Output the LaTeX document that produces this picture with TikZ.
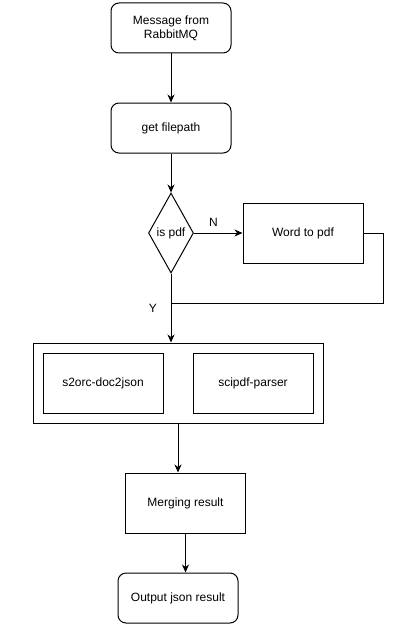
\documentclass[tikz,border=0pt]{standalone}
\usepackage{fontspec}
\setmainfont{Liberation Sans}
\usepackage{xcolor}
\usepackage{tikz}
\usetikzlibrary{shapes.geometric,arrows.meta,calc}

\begin{document}
\begin{tikzpicture}[x=1pt,y=-1pt,font=\fontsize{12}{14}\selectfont]
        % Define the styles for the boxes and the connectors
        \tikzstyle{roundbox}=[draw, line width=1pt, rounded corners=8pt, minimum width=120pt, minimum height=50pt, inner sep=0pt, align=center];
        \tikzstyle{plainbox}=[draw, line width=1pt, minimum width=120pt, minimum height=60pt, inner sep=0pt, align=center];
        \tikzstyle{decision}=[draw, line width=1pt, diamond, aspect=0.56, minimum width=45pt, minimum height=80pt, inner sep=0pt];
        \tikzstyle{flow}=[-{Stealth[length=8pt,width=7pt,inset=2.5pt]}, line width=1pt];
        
        % Fix the page size
        \useasboundingbox (0,0) rectangle (416,634);
        
        % Input and first step
        \node[roundbox] (msg) at (171,28) {Message from\\RabbitMQ};
        \node[roundbox] (filepath) at (171,128) {get filepath};
        
        % The decision and the conversion step
        \node[decision] (ispdf) at (171,233) {is pdf};
        \node[plainbox] (word) at (303,233) {Word to pdf};
        
        % The two parsers inside one box
        \node[draw, line width=1pt, minimum width=290pt, minimum height=80pt, inner sep=0pt] (tools) at (178,383) {};
        \node[plainbox] (s2orc) at (103,383) {s2orc-doc2json};
        \node[plainbox] (scipdf) at (253,383) {scipdf-parser};
        
        % Merging and output
        \node[plainbox] (merge) at (185.5,503) {Merging result};
        \node[roundbox] (output) at (178,598) {Output json result};
        
        % Point where the converted file joins the main line
        \coordinate (join) at (171,303);
        
        % Connectors
        \draw[flow] (msg.south) -- (filepath.north);
        \draw[flow] (filepath.south) -- (ispdf.north);
        \draw[flow] (ispdf.east) -- node[pos=0.4, above=3pt] (nlabel) {N} (word.west);
        \draw[line width=1pt] (word.east) -- ++(20,0) |- (join);
        \draw[flow] (ispdf.south) -- (ispdf.south |- tools.north);
        \node (ylabel) at (153,308) {Y};
        \draw[flow] (tools.south) -- (tools.south |- merge.north);
        \draw[flow] (merge.south) -- (merge.south |- output.north);
    \end{tikzpicture}
\end{document}
